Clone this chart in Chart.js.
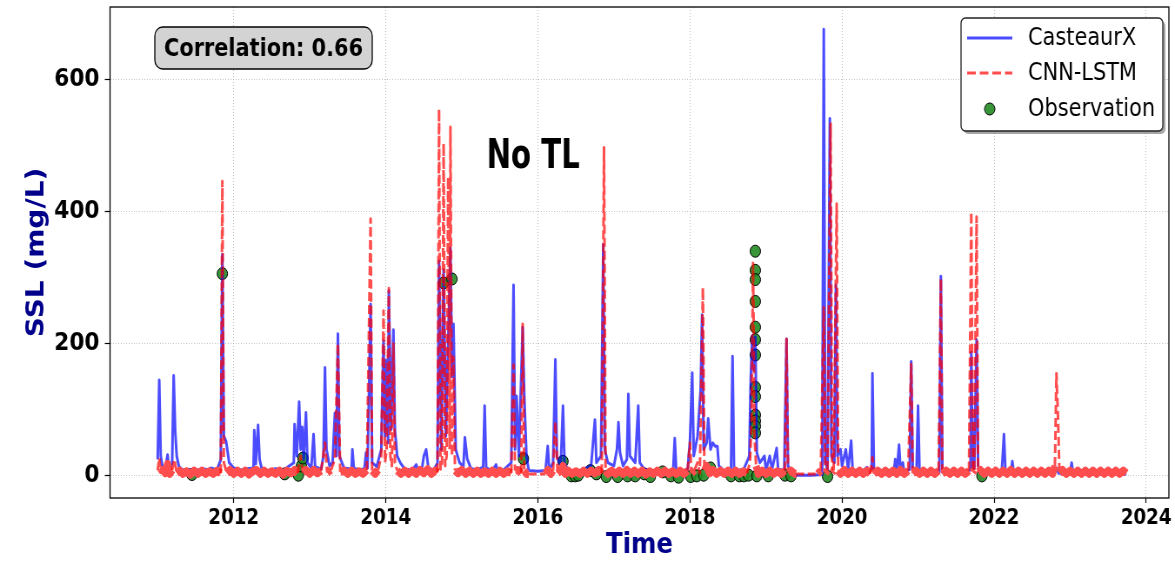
<!DOCTYPE html>
<html lang="en">
<head>
    <meta charset="UTF-8">
    <title>SSL - No TL</title>
    <script src="https://cdn.jsdelivr.net/npm/chart.js"></script>
    <style>
        html, body { margin: 0; padding: 0; overflow: hidden; background: #fff; }
        /* the figure is drawn wide and squeezed horizontally to 1175px */
        #chartCanvas { position: absolute; left: 0; top: 0; transform: scaleX(0.8697); transform-origin: 0 0; }
    </style>
</head>
<body>
    <canvas id="chartCanvas" width="1351" height="561"></canvas>

    <script>
        // axis ticks
        const xTicks = [2012, 2014, 2016, 2018, 2020, 2022, 2024];
        const yTicks = [0, 200, 400, 600];
        const correlation = 0.66;

        // CasteaurX simulation: [decimal year, SSL mg/L]
        const casteaurX = [
            [2011.00,25],[2011.02,145],[2011.04,30],[2011.07,9],[2011.10,12],[2011.13,32],[2011.15,8],[2011.19,20],
            [2011.21,152],[2011.23,69],[2011.25,30],[2011.28,14],[2011.33,9],[2011.40,10],[2011.50,8],[2011.60,11],
            [2011.66,9],[2011.70,12],[2011.78,9],[2011.83,25],[2011.85,335],[2011.87,60],[2011.90,52],[2011.94,20],
            [2012.00,12],[2012.10,9],[2012.20,11],[2012.26,12],[2012.27,69],[2012.29,18],[2012.32,77],[2012.34,25],
            [2012.37,10],[2012.45,8],[2012.55,11],[2012.65,8],[2012.72,14],[2012.79,20],[2012.80,78],[2012.83,30],
            [2012.86,112],[2012.88,40],[2012.90,74],[2012.92,25],[2012.95,96],[2012.97,20],[2013.02,12],[2013.05,63],
            [2013.07,14],[2013.15,10],[2013.18,30],[2013.20,164],[2013.22,40],[2013.26,15],[2013.30,20],[2013.33,95],
            [2013.35,30],[2013.37,215],[2013.39,30],[2013.45,12],[2013.55,10],[2013.56,40],[2013.58,11],[2013.68,9],
            [2013.72,12],[2013.74,35],[2013.76,12],[2013.80,260],[2013.82,20],[2013.88,14],[2013.94,40],[2013.97,205],
            [2013.99,60],[2014.01,175],[2014.03,50],[2014.04,280],[2014.07,70],[2014.10,221],[2014.12,69],[2014.15,30],
            [2014.19,20],[2014.25,10],[2014.35,9],[2014.40,17],[2014.42,8],[2014.48,14],[2014.50,30],[2014.53,40],
            [2014.56,12],[2014.63,9],[2014.68,20],[2014.70,325],[2014.73,40],[2014.76,312],[2014.79,60],[2014.82,200],
            [2014.85,345],[2014.87,150],[2014.89,230],[2014.92,40],[2014.97,20],[2015.02,14],[2015.04,58],[2015.07,26],
            [2015.12,11],[2015.20,9],[2015.28,13],[2015.30,106],[2015.32,12],[2015.40,8],[2015.45,17],[2015.47,8],
            [2015.55,9],[2015.65,20],[2015.68,289],[2015.70,40],[2015.72,121],[2015.75,30],[2015.80,225],[2015.82,125],
            [2015.85,30],[2015.88,8],[2016.00,7],[2016.10,8],[2016.13,45],[2016.15,9],[2016.20,20],[2016.23,176],
            [2016.25,30],[2016.30,15],[2016.33,106],[2016.35,20],[2016.40,8],[2016.50,6],[2016.60,10],[2016.70,15],
            [2016.75,85],[2016.77,20],[2016.83,30],[2016.86,350],[2016.88,40],[2016.92,20],[2017.00,15],[2017.04,40],
            [2017.06,81],[2017.08,35],[2017.12,15],[2017.17,25],[2017.19,124],[2017.21,30],[2017.28,20],[2017.32,106],
            [2017.34,20],[2017.40,10],[2017.55,7],[2017.70,6],[2017.78,10],[2017.80,57],[2017.82,8],[2017.90,7],
            [2017.97,10],[2018.00,52],[2018.03,156],[2018.05,30],[2018.10,60],[2018.14,130],[2018.16,244],[2018.18,40],
            [2018.22,50],[2018.24,87],[2018.27,40],[2018.30,50],[2018.33,45],[2018.36,45],[2018.38,15],[2018.45,8],
            [2018.54,10],[2018.56,181],[2018.58,10],[2018.70,8],[2018.78,30],[2018.80,150],[2018.82,212],[2018.84,160],
            [2018.86,210],[2018.88,35],[2018.92,20],[2018.98,30],[2019.00,8],[2019.05,30],[2019.08,10],[2019.14,42],
            [2019.16,10],[2019.24,8],[2019.27,207],[2019.29,15],[2019.35,5],[2019.40,1],[2019.60,1],[2019.74,2],
            [2019.76,676],[2019.78,20],[2019.81,10],[2019.84,541],[2019.86,30],[2019.90,20],[2019.92,289],[2019.94,30],
            [2019.98,40],[2020.00,15],[2020.05,40],[2020.08,10],[2020.12,53],[2020.14,8],[2020.25,5],[2020.33,13],
            [2020.35,4],[2020.39,10],[2020.40,155],[2020.42,8],[2020.55,4],[2020.68,6],[2020.70,25],[2020.72,4],
            [2020.75,47],[2020.77,8],[2020.80,20],[2020.82,4],[2020.89,10],[2020.91,173],[2020.93,10],[2020.98,8],
            [2021.00,106],[2021.02,5],[2021.15,4],[2021.28,6],[2021.30,302],[2021.32,6],[2021.50,3],[2021.65,4],
            [2021.69,10],[2021.70,187],[2021.72,10],[2021.74,12],[2021.77,206],[2021.79,15],[2021.82,4],[2022.00,3],
            [2022.10,4],[2022.13,63],[2022.15,4],[2022.22,4],[2022.24,22],[2022.26,3],[2022.50,3],[2022.78,5],
            [2022.82,12],[2022.85,4],[2023.00,5],[2023.02,20],[2023.04,3],[2023.30,3],[2023.74,3]
        ];

        // CNN-LSTM prediction: [decimal year, SSL mg/L]
        const cnnLstm = [
            [2011.00,8],[2011.02,27],[2011.04,3],[2011.07,9],[2011.10,4],[2011.13,18],[2011.16,3],[2011.19,9],
            [2011.22,25],[2011.25,4],[2011.29,8],[2011.33,3],[2011.38,7],[2011.43,2],[2011.48,8],[2011.53,3],
            [2011.58,8],[2011.63,3],[2011.68,7],[2011.73,3],[2011.78,8],[2011.83,4],[2011.85,446],[2011.87,20],
            [2011.91,4],[2011.95,9],[2012.00,3],[2012.05,8],[2012.10,3],[2012.15,8],[2012.20,2],[2012.25,7],
            [2012.30,9],[2012.35,3],[2012.40,8],[2012.45,3],[2012.50,7],[2012.55,3],[2012.60,8],[2012.65,2],
            [2012.70,8],[2012.75,4],[2012.80,9],[2012.84,4],[2012.88,30],[2012.91,5],[2012.95,9],[2013.00,3],
            [2013.05,9],[2013.10,4],[2013.15,8],[2013.20,50],[2013.23,5],[2013.28,9],[2013.33,25],[2013.37,200],
            [2013.40,6],[2013.45,8],[2013.50,3],[2013.55,8],[2013.60,3],[2013.65,7],[2013.70,3],[2013.75,9],
            [2013.80,389],[2013.82,8],[2013.86,3],[2013.90,9],[2013.94,30],[2013.97,250],[2013.99,20],[2014.01,40],
            [2014.04,284],[2014.06,30],[2014.08,15],[2014.10,200],[2014.12,20],[2014.15,8],[2014.20,3],[2014.25,8],
            [2014.30,3],[2014.35,8],[2014.40,3],[2014.45,9],[2014.50,4],[2014.55,10],[2014.60,3],[2014.65,8],
            [2014.68,5],[2014.70,555],[2014.72,10],[2014.74,20],[2014.76,503],[2014.78,15],[2014.80,30],[2014.82,452],
            [2014.84,40],[2014.85,528],[2014.87,30],[2014.89,180],[2014.91,8],[2014.95,4],[2015.00,9],[2015.05,3],
            [2015.10,8],[2015.15,3],[2015.20,8],[2015.25,3],[2015.30,7],[2015.35,3],[2015.40,8],[2015.45,3],
            [2015.50,8],[2015.55,3],[2015.60,7],[2015.65,4],[2015.68,168],[2015.70,8],[2015.74,9],[2015.78,4],
            [2015.80,230],[2015.82,8],[2015.85,3],[2015.88,3],[2016.10,3],[2016.13,9],[2016.17,3],[2016.20,8],
            [2016.23,82],[2016.26,4],[2016.30,8],[2016.33,15],[2016.36,3],[2016.40,8],[2016.45,3],[2016.50,7],
            [2016.55,3],[2016.60,8],[2016.65,3],[2016.70,8],[2016.75,4],[2016.80,9],[2016.84,4],[2016.87,497],
            [2016.89,8],[2016.92,3],[2016.97,8],[2017.02,3],[2017.07,8],[2017.12,3],[2017.17,9],[2017.22,3],
            [2017.27,8],[2017.32,3],[2017.37,8],[2017.42,2],[2017.47,7],[2017.52,3],[2017.57,8],[2017.62,3],
            [2017.67,8],[2017.72,3],[2017.77,7],[2017.82,3],[2017.87,8],[2017.92,3],[2017.97,8],[2018.00,50],
            [2018.02,4],[2018.06,9],[2018.10,20],[2018.13,4],[2018.17,285],[2018.19,8],[2018.22,15],[2018.26,4],
            [2018.30,9],[2018.35,3],[2018.40,8],[2018.45,3],[2018.50,8],[2018.55,3],[2018.60,8],[2018.65,3],
            [2018.70,7],[2018.75,4],[2018.79,20],[2018.81,80],[2018.83,322],[2018.85,60],[2018.87,15],[2018.90,3],
            [2018.95,8],[2019.00,3],[2019.05,8],[2019.10,3],[2019.15,7],[2019.20,3],[2019.25,8],[2019.27,207],
            [2019.29,5],[2019.33,8],[2019.38,3],[2019.40,3],[2019.68,3],[2019.72,8],[2019.76,255],[2019.78,4],
            [2019.81,9],[2019.85,533],[2019.87,5],[2019.89,8],[2019.93,412],[2019.95,8],[2019.98,3],[2020.03,9],
            [2020.08,3],[2020.13,8],[2020.18,3],[2020.23,8],[2020.28,3],[2020.33,8],[2020.37,3],[2020.40,28],
            [2020.42,3],[2020.47,8],[2020.52,3],[2020.57,8],[2020.62,3],[2020.67,8],[2020.72,3],[2020.77,9],
            [2020.82,3],[2020.87,8],[2020.91,169],[2020.93,4],[2020.97,8],[2021.02,3],[2021.07,8],[2021.12,3],
            [2021.17,8],[2021.22,3],[2021.27,8],[2021.30,298],[2021.32,3],[2021.37,8],[2021.42,3],[2021.47,8],
            [2021.52,3],[2021.57,8],[2021.62,3],[2021.67,8],[2021.70,399],[2021.72,5],[2021.74,9],[2021.77,392],
            [2021.79,6],[2021.82,9],[2021.87,3],[2021.92,8],[2021.97,3],[2022.02,8],[2022.07,3],[2022.12,8],
            [2022.17,3],[2022.22,9],[2022.27,3],[2022.32,8],[2022.37,3],[2022.42,8],[2022.47,3],[2022.52,8],
            [2022.57,3],[2022.62,8],[2022.67,3],[2022.72,8],[2022.77,3],[2022.80,15],[2022.82,155],[2022.84,90],
            [2022.86,4],[2022.90,9],[2022.95,3],[2023.00,8],[2023.05,3],[2023.10,8],[2023.15,3],[2023.20,8],
            [2023.25,3],[2023.30,8],[2023.35,3],[2023.40,8],[2023.45,3],[2023.50,8],[2023.55,3],[2023.60,8],
            [2023.65,3],[2023.70,8],[2023.74,4]
        ];

        // field samples: [decimal year, SSL mg/L]
        const observation = [
            [2011.45,2],[2011.85,306],[2012.67,3],[2012.85,1],[2012.89,15],[2012.91,27],[2014.76,292],[2014.87,298],
            [2015.81,26],[2016.33,22],[2016.44,0],[2016.49,0],[2016.53,1],[2016.69,8],[2016.77,3],[2016.90,-1],
            [2017.05,-1],[2017.18,0],[2017.28,0],[2017.40,3],[2017.48,-1],[2017.64,6],[2017.75,0],[2017.85,-2],
            [2018.01,-1],[2018.09,0],[2018.18,1],[2018.27,12],[2018.54,0],[2018.65,0],[2018.71,0],[2018.77,1],
            [2018.86,340],[2018.86,311],[2018.86,297],[2018.86,264],[2018.86,225],[2018.86,206],[2018.86,183],
            [2018.86,134],[2018.86,120],[2018.86,92],[2018.86,83],[2018.86,75],[2018.86,65],[2018.88,0],
            [2019.03,0],[2019.25,1],[2019.33,0],[2019.81,-1],[2021.84,0]
        ];

        const toXY = pairs => pairs.map(([x, y]) => ({ x, y }));
        // low-flow stretches: dense daily noise reads as one solid band
        const isLow = c => c.p0.parsed.y < 20 && c.p1.parsed.y < 20 && c.p1.parsed.x - c.p0.parsed.x < 0.1;

        // text, frame and legend drawn on top of the plot
        const overlay = {
            id: 'overlay',
            afterDraw(chart) {
                const { ctx, chartArea: a } = chart;
                ctx.save();

                // axes frame
                ctx.strokeStyle = '#000';
                ctx.lineWidth = 1.3;
                ctx.strokeRect(a.left, a.top, a.right - a.left, a.bottom - a.top);

                // correlation badge
                ctx.beginPath();
                ctx.roundRect(178, 27, 250, 42, 9);
                ctx.fillStyle = '#d3d3d3';
                ctx.fill();
                ctx.lineWidth = 1.3;
                ctx.strokeStyle = '#000';
                ctx.stroke();
                ctx.fillStyle = '#000';
                ctx.font = 'bold 24px "DejaVu Sans"';
                ctx.textAlign = 'center';
                ctx.textBaseline = 'alphabetic';
                ctx.fillText('Correlation: ' + correlation.toFixed(2), 303, 56);

                // panel label
                ctx.save();
                ctx.translate(613, 168);
                ctx.scale(0.84, 1);
                ctx.font = 'bold 40px "DejaVu Sans"';
                ctx.fillText('No TL', 0, 0);
                ctx.restore();

                // legend box with shadow
                const lx = 1105, ly = 18, lw = 232, lh = 113;
                ctx.beginPath();
                ctx.roundRect(lx + 3, ly + 3, lw, lh, 5);
                ctx.fillStyle = 'rgba(0,0,0,0.35)';
                ctx.fill();
                ctx.beginPath();
                ctx.roundRect(lx, ly, lw, lh, 5);
                ctx.fillStyle = '#fff';
                ctx.fill();
                ctx.strokeStyle = '#222';
                ctx.lineWidth = 1.3;
                ctx.stroke();

                const rows = [38, 73, 109];
                const names = chart.data.datasets.map(d => d.label);
                ctx.lineWidth = 3;
                ctx.strokeStyle = 'rgba(0,0,255,0.7)';
                ctx.beginPath(); ctx.moveTo(1112, rows[0]); ctx.lineTo(1164, rows[0]); ctx.stroke();
                ctx.strokeStyle = 'rgba(255,0,0,0.7)';
                ctx.setLineDash([10, 4.5]);
                ctx.beginPath(); ctx.moveTo(1112, rows[1]); ctx.lineTo(1164, rows[1]); ctx.stroke();
                ctx.setLineDash([]);
                ctx.beginPath();
                ctx.ellipse(1138, rows[2], 6, 6, 0, 0, Math.PI * 2);
                ctx.fillStyle = 'rgba(34,139,34,0.9)';
                ctx.fill();
                ctx.lineWidth = 1;
                ctx.strokeStyle = '#000';
                ctx.stroke();

                ctx.fillStyle = '#000';
                ctx.font = '24px "DejaVu Sans"';
                ctx.textAlign = 'left';
                ctx.textBaseline = 'middle';
                names.forEach((n, i) => ctx.fillText(n, 1182, rows[i] + 1));

                ctx.restore();
            }
        };

        const ctx = document.getElementById('chartCanvas').getContext('2d');
        Chart.defaults.font.family = '"DejaVu Sans"';

        const chart = new Chart(ctx, {
            type: 'scatter',
            data: {
                datasets: [
                    {
                        label: 'CasteaurX',
                        data: toXY(casteaurX),
                        showLine: true,
                        borderColor: 'rgba(0,0,255,0.7)',
                        borderWidth: 3,
                        borderJoinStyle: 'round',
                        pointRadius: 0,
                        order: 2,
                    },
                    {
                        label: 'CNN-LSTM',
                        data: toXY(cnnLstm),
                        showLine: true,
                        borderColor: 'rgba(255,0,0,0.7)',
                        borderWidth: 3,
                        borderDash: [9, 4],
                        borderJoinStyle: 'round',
                        segment: {
                            borderColor: c => isLow(c) ? '#ff4d4d' : undefined,
                            borderDash: c => isLow(c) ? [] : undefined,
                            borderWidth: c => isLow(c) ? 8 : undefined,
                        },
                        pointRadius: 0,
                        order: 1,
                    },
                    {
                        label: 'Observation',
                        data: toXY(observation),
                        showLine: false,
                        backgroundColor: 'rgba(34,139,34,0.9)',
                        borderColor: '#000',
                        borderWidth: 1,
                        pointRadius: 6,
                        order: 3,
                    },
                ],
            },
            options: {
                responsive: false,
                devicePixelRatio: 1,
                animation: false,
                layout: { padding: { top: 6, right: 2, left: 0, bottom: 0 } },
                plugins: {
                    legend: { display: false },
                    tooltip: { enabled: false },
                },
                scales: {
                    x: {
                        type: 'linear',
                        min: 2010.373,
                        max: 2024.299,
                        afterBuildTicks: s => { s.ticks = xTicks.map(v => ({ value: v })); },
                        afterFit: s => {
                            s.height = 63;
                            s.paddingLeft = 0;
                            s.paddingRight = 0;
                        },
                        ticks: {
                            callback: v => String(v),
                            color: '#000',
                            font: { size: 21, weight: 'bold' },
                            padding: 3,
                            maxRotation: 0,
                        },
                        grid: { color: '#b0b0b0', lineWidth: 0.8, tickLength: 5, tickColor: '#000', tickWidth: 1.2, tickBorderDash: [] },
                        border: { display: false, dash: [1, 2] },
                        title: {
                            display: true,
                            text: 'Time',
                            color: '#00008b',
                            font: { size: 28, weight: 'bold', lineHeight: 1.1 },
                            padding: { top: 0, bottom: 0 },
                        },
                    },
                    y: {
                        min: -33.5,
                        max: 709.6,
                        afterBuildTicks: s => { s.ticks = yTicks.map(v => ({ value: v })); },
                        afterFit: s => {
                            s.width = 126.5;
                            s.paddingTop = 0;
                            s.paddingBottom = 0;
                        },
                        ticks: {
                            color: '#000',
                            font: { size: 25, weight: 'bold' },
                            padding: 6,
                        },
                        grid: { color: '#b0b0b0', lineWidth: 0.8, tickLength: 6, tickColor: '#000', tickWidth: 1.2, tickBorderDash: [] },
                        border: { display: false, dash: [1, 2] },
                        title: {
                            display: true,
                            text: 'SSL (mg/L)',
                            color: '#00008b',
                            font: { size: 28, weight: 'bold', lineHeight: 1.1 },
                            padding: { top: 27, bottom: 0 },
                        },
                    },
                },
            },
            plugins: [overlay],
        });
    </script>
</body>
</html>
